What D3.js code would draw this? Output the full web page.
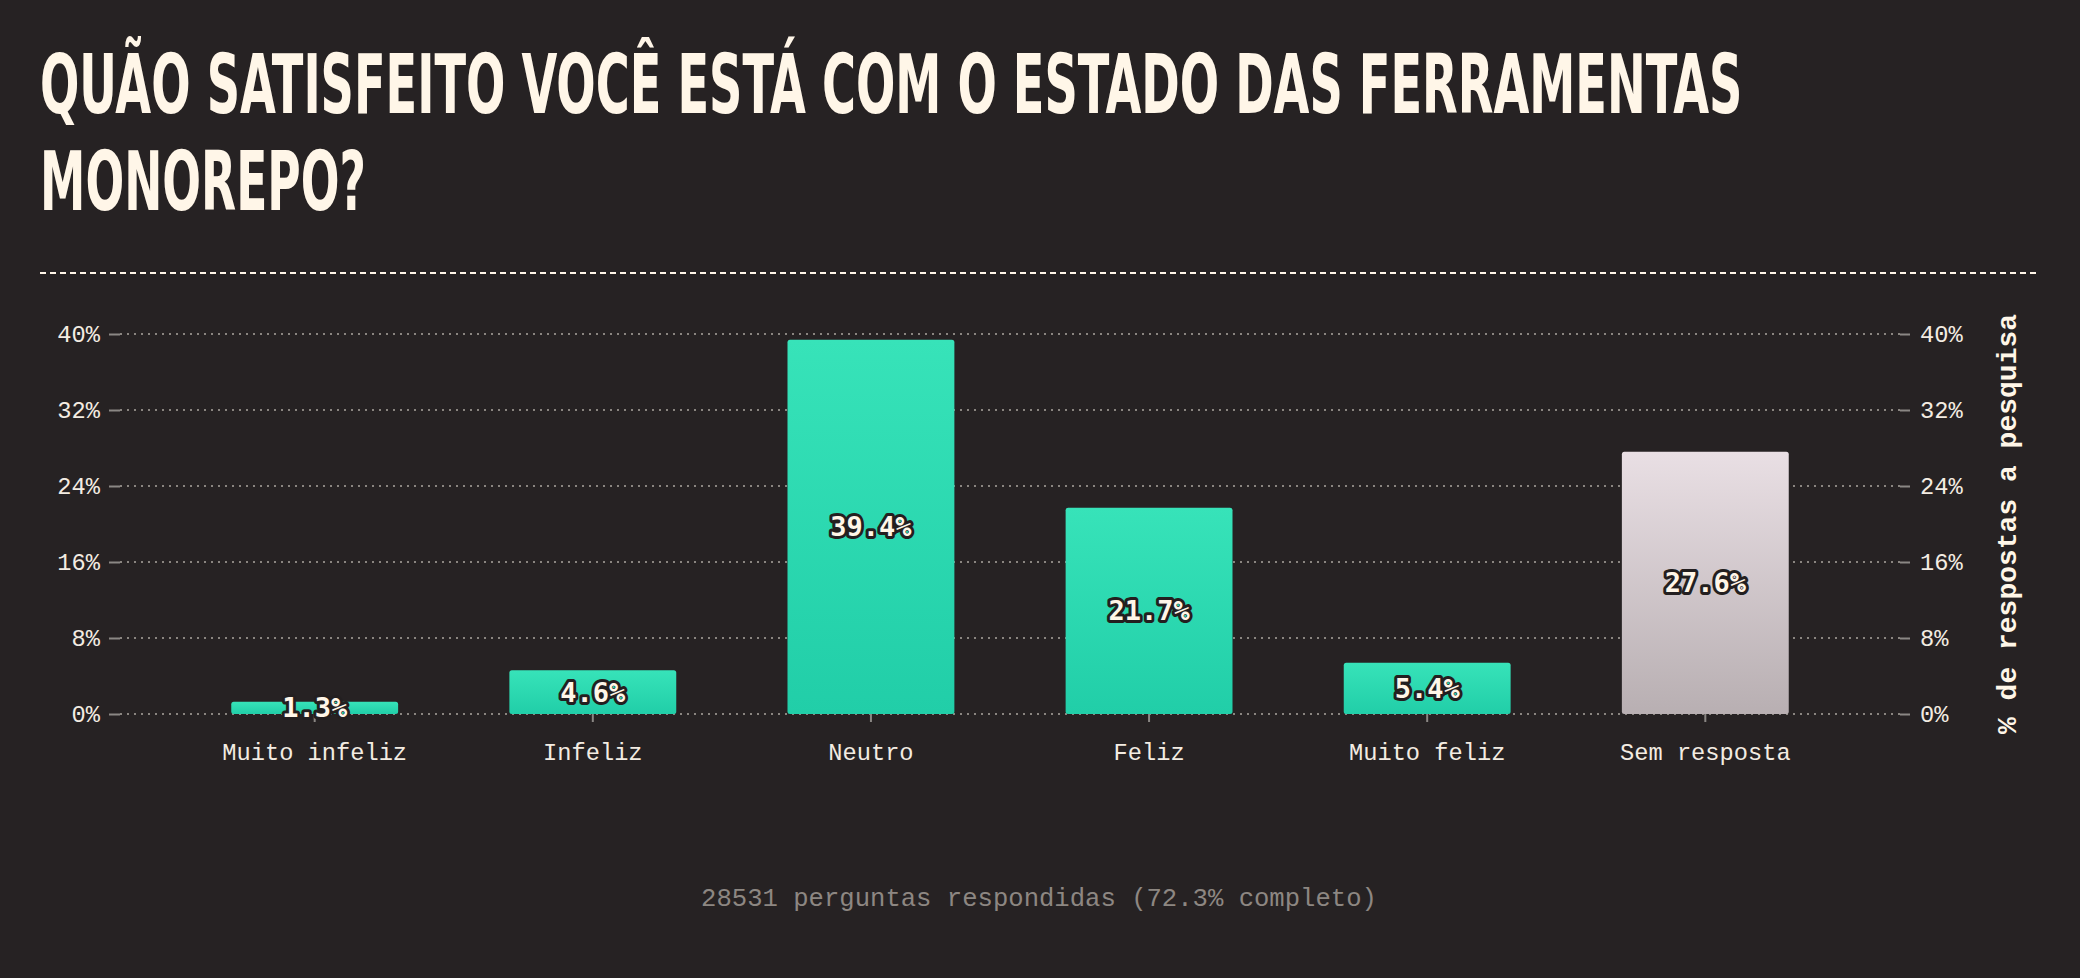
<!DOCTYPE html>
<html>
<head>
<meta charset="utf-8">
<script src="https://cdn.jsdelivr.net/npm/d3@7"></script>
<style>
  html, body { margin: 0; padding: 0; background: #262223; }
  svg { display: block; }
</style>
</head>
<body>
<svg id="chart" width="2080" height="978"></svg>
<script>
// ---- data ----
const titleLines = ["QUÃO SATISFEITO VOCÊ ESTÁ COM O ESTADO DAS FERRAMENTAS", "MONOREPO?"];
const categories = ["Muito infeliz", "Infeliz", "Neutro", "Feliz", "Muito feliz", "Sem resposta"];
const values = [1.3, 4.6, 39.4, 21.7, 5.4, 27.6];
const yTicks = [0, 8, 16, 24, 32, 40];
const yAxisTitle = "% de respostas a pesquisa";
const footerText = "28531 perguntas respondidas (72.3% completo)";

// ---- setup ----
const W = 2080, H = 978;
const svg = d3.select("#chart");
svg.append("rect").attr("width", W).attr("height", H).attr("fill", "#262223");

const cream = "#fff6e8";
const mono = "'Liberation Mono', 'DejaVu Sans Mono', monospace";

const defs = svg.append("defs");
const gTeal = defs.append("linearGradient").attr("id", "gTeal").attr("x1", 0).attr("y1", 0).attr("x2", 0).attr("y2", 1);
gTeal.append("stop").attr("offset", "0%").attr("stop-color", "#37e3b9");
gTeal.append("stop").attr("offset", "100%").attr("stop-color", "#21cea8");
const gGray = defs.append("linearGradient").attr("id", "gGray").attr("x1", 0).attr("y1", 0).attr("x2", 0).attr("y2", 1);
gGray.append("stop").attr("offset", "0%").attr("stop-color", "#e9dfe4");
gGray.append("stop").attr("offset", "100%").attr("stop-color", "#b8afb2");

// ---- title (condensed by horizontal scaling to fit the measured widths) ----
const titleWidths = [1703, 326];
const titleBaselines = [113, 210];
titleLines.forEach((line, i) => {
  const t = svg.append("text")
    .attr("x", 0).attr("y", 0)
    .attr("font-family", "'DejaVu Sans Condensed', 'DejaVu Sans', sans-serif")
    .attr("font-weight", "bold")
    .attr("font-size", 82)
    .attr("fill", cream)
    .text(line);
  const natural = t.node().getComputedTextLength();
  const sx = titleWidths[i] / natural;
  t.attr("transform", `translate(40,${titleBaselines[i]}) scale(${sx},1)`);
});

svg.append("line")
  .attr("x1", 40).attr("x2", 2040).attr("y1", 273).attr("y2", 273)
  .attr("stroke", cream).attr("stroke-width", 2).attr("stroke-dasharray", "6,4");

// ---- scales ----
const x = d3.scaleBand().domain(categories).range([120, 1900]).paddingInner(0.4).paddingOuter(0.4);
const y = d3.scaleLinear().domain([0, 40]).range([714, 334]);

// gridlines
svg.append("g").selectAll("line").data(yTicks).join("line")
  .attr("x1", 120).attr("x2", 1900)
  .attr("y1", d => y(d)).attr("y2", d => y(d))
  .attr("stroke", "#8a8580").attr("stroke-width", 2).attr("stroke-dasharray", "2,5");

function styleAxis(g) {
  g.select(".domain").remove();
  g.selectAll(".tick line").attr("stroke", "#8a8784").attr("stroke-width", 2);
  g.selectAll(".tick text").attr("fill", "#f3ece2").attr("font-family", mono).attr("font-size", 23.7);
}

svg.append("g").attr("transform", "translate(120,0)")
  .call(d3.axisLeft(y).tickValues(yTicks).tickFormat(d => d + "%").tickSize(11).tickPadding(9))
  .call(styleAxis);
svg.append("g").attr("transform", "translate(1900,0)")
  .call(d3.axisRight(y).tickValues(yTicks).tickFormat(d => d + "%").tickSize(10).tickPadding(10))
  .call(styleAxis);
svg.append("g").attr("transform", "translate(0,714)")
  .call(d3.axisBottom(x).tickSize(8).tickPadding(21))
  .call(styleAxis);

// ---- bars ----
const barData = categories.map((c, i) => ({ c, v: values[i] }));
svg.append("g").selectAll("rect").data(barData).join("rect")
  .attr("x", d => x(d.c))
  .attr("width", x.bandwidth())
  .attr("y", d => y(d.v))
  .attr("height", d => y(0) - y(d.v))
  .attr("rx", 2.5)
  .attr("fill", d => d.c === "Sem resposta" ? "url(#gGray)" : "url(#gTeal)");

svg.append("g").selectAll("text").data(barData).join("text")
  .attr("x", d => x(d.c) + x.bandwidth() / 2)
  .attr("y", d => (y(d.v) + y(0)) / 2)
  .attr("text-anchor", "middle")
  .attr("dominant-baseline", "central")
  .attr("font-family", "'DejaVu Sans Mono', monospace")
  .attr("font-weight", "bold")
  .attr("font-size", 27)
  .attr("fill", cream)
  .attr("stroke", "#231f20")
  .attr("stroke-width", 6)
  .attr("stroke-linejoin", "round")
  .attr("paint-order", "stroke")
  .text(d => d.v.toFixed(1) + "%");

// ---- right axis title ----
svg.append("text")
  .attr("transform", "translate(2016,524) rotate(-90)")
  .attr("text-anchor", "middle")
  .attr("font-family", mono)
  .attr("font-weight", "bold")
  .attr("font-size", 28)
  .attr("fill", cream)
  .text(yAxisTitle);

// ---- footer ----
svg.append("text")
  .attr("x", 1039).attr("y", 906)
  .attr("text-anchor", "middle")
  .attr("font-family", mono)
  .attr("font-size", 25.6)
  .attr("fill", "#8d8782")
  .text(footerText);
</script>
</body>
</html>
